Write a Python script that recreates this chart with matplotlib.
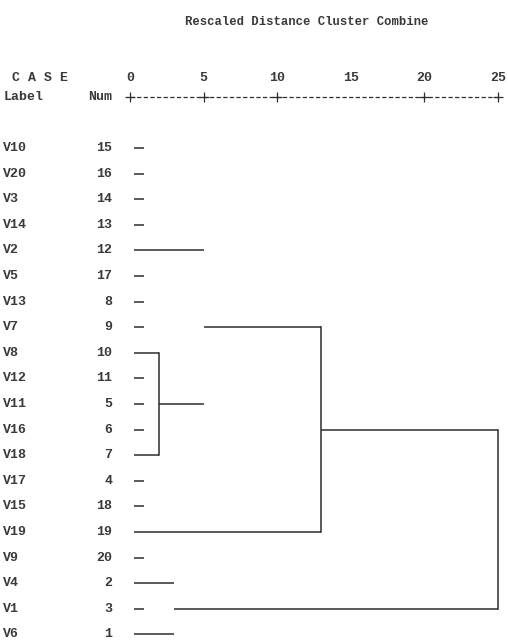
import matplotlib
matplotlib.use("Agg")
import matplotlib.pyplot as plt

INK = "#2e2e2e"
FONT = "Liberation Mono"

# case labels and case numbers, top to bottom in dendrogram order
labels = ["V10", "V20", "V3", "V14", "V2", "V5", "V13", "V7", "V8", "V12",
          "V11", "V16", "V18", "V17", "V15", "V19", "V9", "V4", "V1", "V6"]
nums = [15, 16, 14, 13, 12, 17, 8, 9, 10, 11, 5, 6, 7, 4, 18, 19, 20, 2, 3, 1]

# rescaled distance axis
ticks = [0, 5, 10, 15, 20, 25]
plus_at = [0, 5, 10, 20, 25]

# horizontal branches: (row, start distance, end distance)
h_row = [0, 1, 2, 3, 4, 5, 6, 7, 7, 8, 9, 10, 10, 11, 12, 13, 14, 15, 16, 17, 18, 18, 19, 11]
h_from = [0.3, 0.3, 0.3, 0.3, 0.3, 0.3, 0.3, 0.3, 5.0, 0.3, 0.3, 0.3, 2.0, 0.3, 0.3,
          0.3, 0.3, 0.3, 0.3, 0.3, 0.3, 3.0, 0.3, 13.0]
h_to = [0.95, 0.95, 0.95, 0.95, 5.0, 0.95, 0.95, 0.95, 13.0, 2.0, 0.95, 0.95, 5.0, 0.95,
        2.0, 0.95, 0.95, 13.0, 0.95, 3.0, 0.95, 25.0, 3.0, 25.0]

# vertical joins: distance, first row, last row
v_dist = [2.0, 13.0, 25.0]
v_top = [8, 7, 11]
v_bot = [12, 15, 18]

fig = plt.figure(figsize=(5.08, 6.41), dpi=100)
ax = fig.add_axes([0, 0, 1, 1])
ax.set_xlim(-8.83, 25.68)
ax.set_ylim(19.26, -5.78)
ax.axis("off")

txt = dict(family=FONT, fontsize=9.5, fontweight="bold", color="#3a3a3a", va="center")

ax.text(12.0, -4.92, "Rescaled Distance Cluster Combine", ha="center",
        **{**txt, "fontsize": 8.8})
ax.text(-8.0, -2.73, "C A S E", ha="left", **txt)
ax.text(-8.6, -1.99, "Label", ha="left", **txt)
ax.text(-1.2, -1.99, "Num", ha="right", **txt)
for t in ticks:
    ax.text(t, -2.73, str(t), ha="center", **txt)

# ruler line with plus marks
ax.plot([0, 25], [-1.99, -1.99], color=INK, lw=0.9, linestyle=(0, (3.4, 1.9)))
ax.plot(plus_at, [-1.99] * len(plus_at), "+", color=INK, ms=6.5, mew=0.9)

for i, (lab, n) in enumerate(zip(labels, nums)):
    ax.text(-8.6, i, lab, ha="left", **txt)
    ax.text(-1.2, i, str(n), ha="right", **txt)

for r, a, b in zip(h_row, h_from, h_to):
    ax.plot([a, b], [r, r], color=INK, lw=1.1, solid_capstyle="butt")
for d, t, b in zip(v_dist, v_top, v_bot):
    ax.plot([d, d], [t, b], color=INK, lw=1.1, solid_capstyle="projecting")

fig.savefig("out.png", dpi=100, facecolor="white")
